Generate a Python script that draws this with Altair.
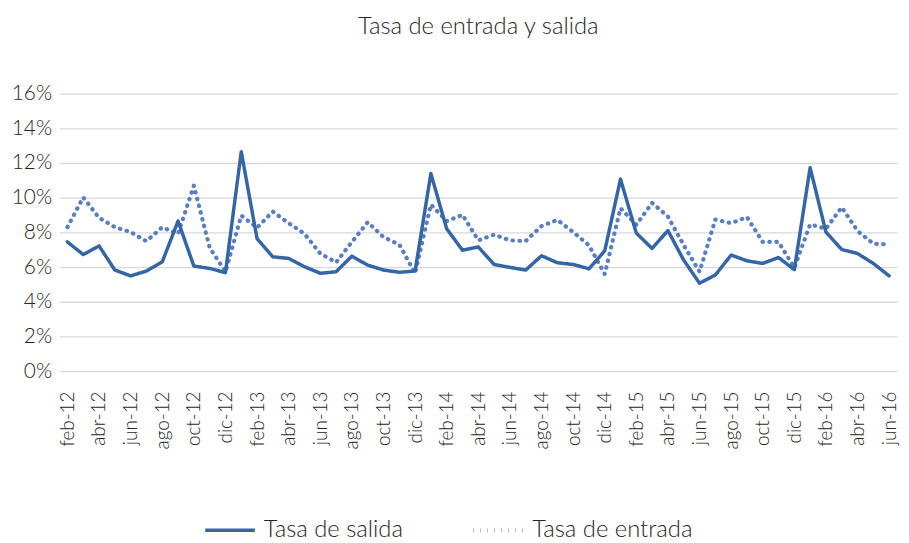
import altair as alt
import pandas as pd

months = [
    "feb-12", "mar-12", "abr-12", "may-12", "jun-12", "jul-12", "ago-12", "sep-12", "oct-12", "nov-12", "dic-12", "ene-13",
    "feb-13", "mar-13", "abr-13", "may-13", "jun-13", "jul-13", "ago-13", "sep-13", "oct-13", "nov-13", "dic-13", "ene-14",
    "feb-14", "mar-14", "abr-14", "may-14", "jun-14", "jul-14", "ago-14", "sep-14", "oct-14", "nov-14", "dic-14", "ene-15",
    "feb-15", "mar-15", "abr-15", "may-15", "jun-15", "jul-15", "ago-15", "sep-15", "oct-15", "nov-15", "dic-15", "ene-16",
    "feb-16", "mar-16", "abr-16", "may-16", "jun-16",
]

salida = [
    7.45, 6.72, 7.22, 5.83, 5.49, 5.77, 6.30, 8.65, 6.06, 5.92, 5.68, 12.65,
    7.64, 6.59, 6.50, 6.02, 5.64, 5.73, 6.63, 6.11, 5.83, 5.70, 5.77, 11.39,
    8.21, 6.97, 7.16, 6.15, 5.98, 5.83, 6.65, 6.25, 6.15, 5.90, 6.93, 11.07,
    7.96, 7.07, 8.11, 6.40, 5.07, 5.54, 6.69, 6.36, 6.21, 6.55, 5.85, 11.73,
    8.02, 7.01, 6.78, 6.21, 5.49,
]

entrada = [
    8.30, 10.02, 8.84, 8.30, 8.02, 7.49, 8.30, 7.92, 10.69, 7.12, 5.73, 8.97,
    8.27, 9.20, 8.53, 7.92, 6.78, 6.27, 7.45, 8.59, 7.73, 7.30, 5.64, 9.60,
    8.65, 9.01, 7.54, 7.87, 7.54, 7.50, 8.36, 8.72, 8.02, 7.26, 5.60, 9.39,
    8.44, 9.70, 8.91, 7.26, 5.73, 8.74, 8.53, 8.88, 7.45, 7.45, 5.96, 8.46,
    8.21, 9.45, 8.08, 7.35, 7.30,
]

series_names = ["Tasa de salida", "Tasa de entrada"]
y_ticks = [0, 0.02, 0.04, 0.06, 0.08, 0.10, 0.12, 0.14, 0.16]

rows = []
for m, s, e in zip(months, salida, entrada):
    rows.append({"mes": m, "serie": "Tasa de entrada", "valor": e / 100})
    rows.append({"mes": m, "serie": "Tasa de salida", "valor": s / 100})
df = pd.DataFrame(rows)

FONT = "Lato"
TXT = "#262626"
W = 300

chart = alt.Chart(df).mark_line(strokeCap="round", strokeJoin="round").encode(
    x=alt.X(
        "mes:N",
        sort=months,
        scale=alt.Scale(padding=0.5),
        axis=alt.Axis(
            title=None,
            values=months[::2],
            labelAngle=270,
            labelFontSize=19,
            labelFont=FONT,
            labelFontWeight=W,
            labelColor=TXT,
            labelPadding=20,
            ticks=False,
            domain=False,
            grid=False,
        ),
    ),
    y=alt.Y(
        "valor:Q",
        scale=alt.Scale(domain=[0, 0.16]),
        axis=alt.Axis(
            title=None,
            values=y_ticks,
            format=".0%",
            labelFontSize=21,
            labelFont=FONT,
            labelFontWeight=W,
            labelColor=TXT,
            labelPadding=8,
            ticks=False,
            domain=False,
            gridColor="#d9d9d9",
            gridWidth=1.3,
        ),
    ),
    color=alt.Color(
        "serie:N",
        sort=series_names,
        scale=alt.Scale(domain=series_names, range=["#3466a5", "#5b7ec1"]),
        legend=alt.Legend(
            title=None,
            orient="none",
            legendX=145,
            legendY=413,
            direction="horizontal",
            symbolType="stroke",
            symbolSize=2500,
            symbolStrokeWidth=3.8,
            labelFontSize=24,
            labelFont=FONT,
            labelFontWeight=W,
            labelColor=TXT,
            labelOffset=7,
            columnPadding=62,
            labelLimit=400,
        ),
    ),
    strokeDash=alt.StrokeDash(
        "serie:N",
        sort=series_names,
        scale=alt.Scale(domain=series_names, range=[[1, 0], [0.5, 6.5]]),
        legend=None,
    ),
    strokeWidth=alt.StrokeWidth(
        "serie:N",
        sort=series_names,
        scale=alt.Scale(domain=series_names, range=[3.5, 4.2]),
        legend=None,
    ),
).properties(
    width=845,
    height=280,
    title=alt.TitleParams(
        "Tasa de entrada y salida",
        fontSize=24,
        font=FONT,
        fontWeight=W,
        color=TXT,
        anchor="middle",
        frame="group",
        baseline="alphabetic",
        offset=25,
    ),
    autosize=alt.AutoSizeParams(type="none"),
    padding={"left": 52, "top": 84, "right": 4, "bottom": 170},
).configure_view(stroke=None)

chart.save("out.html", embed_options={"renderer": "svg", "actions": False})
